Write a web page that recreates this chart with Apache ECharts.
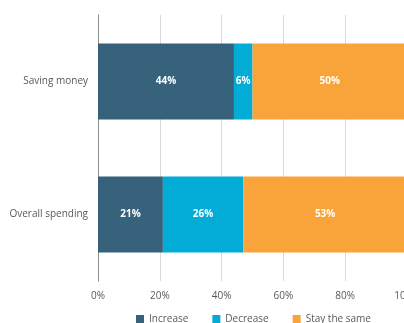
<!DOCTYPE html>
<html>
<head>
<meta charset="utf-8">
<script src="https://cdn.jsdelivr.net/npm/echarts@6/dist/echarts.min.js"></script>
<style>
  html, body { margin: 0; padding: 0; background: #fff; }
  #chart { width: 404px; height: 323px; }
</style>
</head>
<body>
<div id="chart"></div>
<script>
// Categories listed bottom-to-top for the horizontal bar chart
const categories = ['Overall spending', 'Saving money'];
const increase = [21, 44];
const decrease = [26, 6];
const staySame = [53, 50];
const seriesNames = ['Increase', 'Decrease', 'Stay the same'];
const colors = ['#36637b', '#02acd7', '#f8a43a'];

const font = '"Open Sans", "Noto Sans", sans-serif';
const labelStyle = {
  show: true,
  position: 'inside',
  color: '#ffffff',
  fontFamily: font,
  fontSize: 10,
  fontWeight: 'bold',
  formatter: p => p.value + '%'
};

function barSeries(name, data, color) {
  return {
    name: name,
    type: 'bar',
    stack: 'total',
    data: data,
    barWidth: '57%',
    itemStyle: { color: color },
    label: labelStyle
  };
}

const chart = echarts.init(document.getElementById('chart'), null, { renderer: 'canvas' });
chart.setOption({
  animation: false,
  // The plot runs slightly past the right edge, so the 100% label is cut off
  grid: { left: 98, right: -3, top: 15, bottom: 42, containLabel: false, outerBoundsMode: 'none' },
  legend: {
    top: 309,
    left: 131,
    itemWidth: 8,
    itemHeight: 8,
    itemGap: 24,
    icon: 'rect',
    textStyle: { color: '#595959', fontFamily: font, fontSize: 10 },
    data: seriesNames
  },
  xAxis: {
    type: 'value',
    min: 0,
    max: 100,
    interval: 20,
    axisLine: { show: false },
    axisTick: { show: false },
    axisLabel: { color: '#595959', fontFamily: font, fontSize: 10, margin: 10, formatter: '{value}%' },
    splitLine: { lineStyle: { color: '#d9d9d9', width: 1 } }
  },
  yAxis: {
    type: 'category',
    data: categories,
    axisLine: { show: true, lineStyle: { color: '#8c8c8c', width: 1 } },
    axisTick: { show: false },
    axisLabel: { color: '#595959', fontFamily: font, fontSize: 10, margin: 10 }
  },
  series: [
    barSeries(seriesNames[0], increase, colors[0]),
    barSeries(seriesNames[1], decrease, colors[1]),
    barSeries(seriesNames[2], staySame, colors[2])
  ]
});
</script>
</body>
</html>
